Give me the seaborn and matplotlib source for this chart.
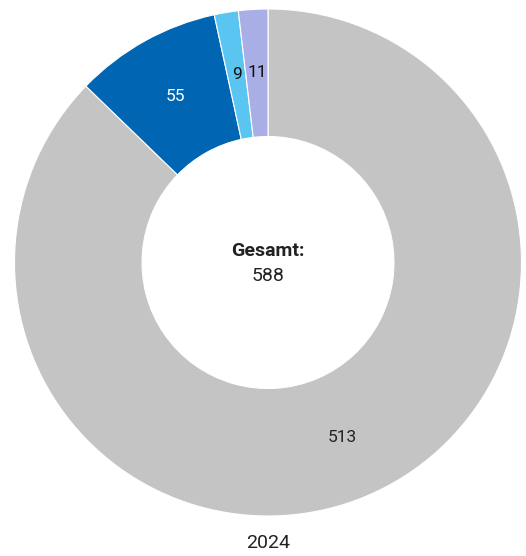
import numpy as np
import matplotlib
matplotlib.use("Agg")
import matplotlib.pyplot as plt
import seaborn as sns

# Donut data (clockwise from the top)
categories = ["A", "B", "C", "D"]
values = [513, 55, 9, 11]
colors = ["#c4c4c4", "#0066b3", "#5bc5f2", "#a9aee6"]
label_colors = ["#222222", "#ffffff", "#111111", "#111111"]
total_label = "Gesamt:"
year = "2024"

sns.set_theme(style="white")
plt.rcParams["font.family"] = ["Roboto", "DejaVu Sans"]

fig = plt.figure(figsize=(5.26, 5.56), dpi=100)
# axes box holds the ring exactly (centre ~ (268, 262) px, radius ~253 px)
ax = fig.add_axes([14.5 / 526, 40 / 556, 507 / 526, 507 / 556])

wedges, _ = ax.pie(values, colors=colors, startangle=90, counterclock=False,
                   radius=1.0, wedgeprops=dict(width=0.503, edgecolor="white", linewidth=0.8))

# value labels inside each ring segment
for w, v, c in zip(wedges, values, label_colors):
    ang = np.deg2rad((w.theta1 + w.theta2) / 2)
    ax.text(0.75 * np.cos(ang), 0.75 * np.sin(ang), str(v), ha="center", va="center",
            fontsize=12.5, color=c)

ax.text(0, 0.045, total_label, ha="center", va="center", fontsize=14,
        fontweight="bold", color="#222222")
ax.text(0, -0.055, str(sum(values)), ha="center", va="center", fontsize=14,
        color="#222222")

ax.set_xlim(-1, 1)
ax.set_ylim(-1, 1)
ax.set_aspect("equal")
ax.axis("off")

fig.text(268 / 526, 1 - 543 / 556, year, ha="center", va="center", fontsize=14,
         color="#222222")

fig.savefig("out.png", dpi=100)
